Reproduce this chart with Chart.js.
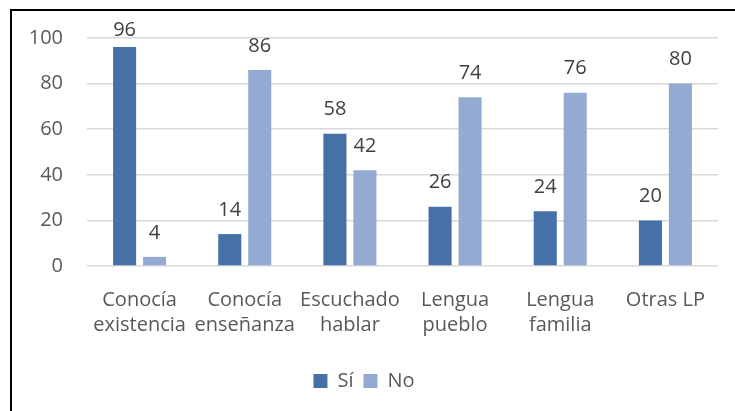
<!DOCTYPE html>
<html>
<head>
<meta charset="utf-8">
<script src="https://cdn.jsdelivr.net/npm/chart.js@4"></script>
<style>
    html, body { margin: 0; padding: 0; background: #fff; }
    #wrap { width: 735px; height: 411px; position: relative; }
</style>
</head>
<body>
<div id="wrap"><canvas id="chart" width="735" height="411"></canvas></div>
<script>
const categories = [
    ['Conocía', 'existencia'],
    ['Conocía', 'enseñanza'],
    ['Escuchado', 'hablar'],
    ['Lengua', 'pueblo'],
    ['Lengua', 'familia'],
    ['Otras LP']
];
const siValues = [96, 14, 58, 26, 24, 20];
const noValues = [4, 86, 42, 74, 76, 80];
const yTicks = [0, 20, 40, 60, 80, 100];

const FONT = '"Open Sans", sans-serif';

// Value labels above each bar (kept inside the frame at the top)
const valueLabels = {
    id: 'valueLabels',
    afterDatasetsDraw(chart) {
        const ctx = chart.ctx;
        ctx.save();
        ctx.font = '20px ' + FONT;
        ctx.fillStyle = '#404040';
        ctx.textAlign = 'center';
        ctx.textBaseline = 'middle';
        chart.data.datasets.forEach((ds, i) => {
            chart.getDatasetMeta(i).data.forEach((bar, j) => {
                ctx.fillText(ds.data[j], bar.x, Math.max(bar.y - 24, 30));
            });
        });
        ctx.restore();
    }
};

// Top and left edge of the frame
const frame = {
    id: 'frame',
    afterDraw(chart) {
        const ctx = chart.ctx;
        ctx.save();
        ctx.strokeStyle = '#000';
        ctx.lineWidth = 2;
        ctx.beginPath();
        ctx.moveTo(11, 411);
        ctx.lineTo(11, 10);
        ctx.lineTo(735, 10);
        ctx.stroke();
        ctx.restore();
    }
};

new Chart(document.getElementById('chart'), {
    type: 'bar',
    data: {
        labels: categories,
        datasets: [
            { label: 'Sí', data: siValues, backgroundColor: '#4571a7' },
            { label: 'No', data: noValues, backgroundColor: '#95aad2' }
        ]
    },
    options: {
        responsive: false,
        animation: false,
        categoryPercentage: 0.57,
        barPercentage: 0.77,
        layout: { padding: { top: 38, right: 17, left: 10, bottom: 10 } },
        plugins: {
            legend: {
                position: 'bottom',
                labels: {
                    boxWidth: 14,
                    boxHeight: 14,
                    padding: 10,
                    color: '#595959',
                    font: { family: FONT, size: 20 }
                }
            },
            tooltip: { enabled: false }
        },
        scales: {
            x: {
                grid: { display: false },
                border: { display: false },
                afterFit(axis) { axis.height = 95; },
                ticks: {
                    color: '#595959',
                    padding: 14,
                    maxRotation: 0,
                    autoSkip: false,
                    font: { family: FONT, size: 20, lineHeight: 1.25 }
                }
            },
            y: {
                min: 0,
                max: 100,
                afterBuildTicks(axis) {
                    axis.ticks = yTicks.map(v => ({ value: v }));
                },
                afterFit(axis) { axis.width = 77; },
                grid: { color: '#d9d9d9', lineWidth: 1.5, drawTicks: false },
                border: { display: false },
                ticks: {
                    color: '#595959',
                    padding: 24,
                    font: { family: FONT, size: 20 }
                }
            }
        }
    },
    plugins: [valueLabels, frame]
});
</script>
</body>
</html>
